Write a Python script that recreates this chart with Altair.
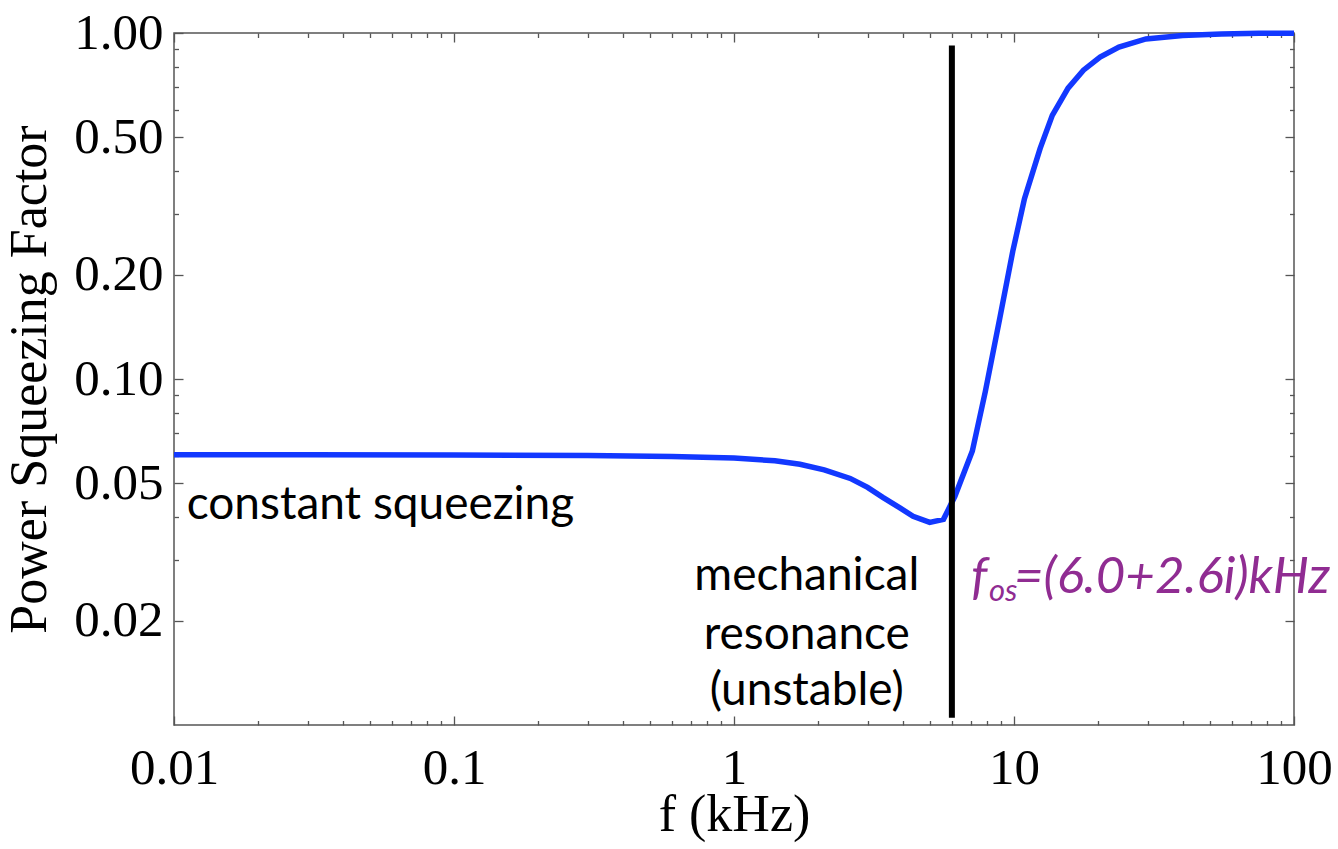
import altair as alt
import pandas as pd

# ---- data ----
freq_khz = [0.01, 0.03, 0.1, 0.3, 0.6, 1.0, 1.4, 1.72, 2.1, 2.6, 3.0, 3.4, 3.9, 4.36,
            5.0, 5.6, 6.15, 7.1, 7.9, 8.9, 9.9, 10.9, 12.4, 13.7, 15.6, 17.7, 20.3,
            23.7, 29.6, 40.0, 55.0, 75.0, 100.0]
squeeze = [0.0604, 0.0604, 0.0603, 0.0601, 0.0597, 0.0591, 0.0580, 0.0567, 0.0546, 0.0516,
           0.0486, 0.0455, 0.0425, 0.0401, 0.0385, 0.0393, 0.0458, 0.0619, 0.092, 0.150,
           0.234, 0.332, 0.464, 0.578, 0.693, 0.781, 0.852, 0.911, 0.961, 0.983, 0.994,
           0.998, 0.999]

x_major = [0.01, 0.1, 1, 10, 100]
x_minor = [0.02, 0.03, 0.04, 0.05, 0.06, 0.07, 0.08, 0.09,
           0.2, 0.3, 0.4, 0.5, 0.6, 0.7, 0.8, 0.9,
           2, 3, 4, 5, 6, 7, 8, 9,
           20, 30, 40, 50, 60, 70, 80, 90]
y_major = [0.02, 0.05, 0.1, 0.2, 0.5, 1.0]
y_minor = [0.03, 0.04, 0.06, 0.07, 0.08, 0.09, 0.3, 0.4, 0.6, 0.7, 0.8, 0.9]

resonance_khz = [6.0]
resonance_lo = [0.0105]
resonance_hi = [0.92]

left_text = ["constant squeezing"]
left_text_x = [0.0111]
left_text_y = [0.0393]

center_text = ["mechanical", "resonance", "(unstable)"]
center_text_x = [1.82, 1.82, 1.82]
center_text_y = [0.0246, 0.0166, 0.01143]

fos_x = [6.0]
fos_y = [0.024]

# ---- tables ----
curve = pd.DataFrame({"f": freq_khz, "v": squeeze})
res = pd.DataFrame({"f": resonance_khz, "lo": resonance_lo, "hi": resonance_hi})
lt = pd.DataFrame({"x": left_text_x, "y": left_text_y, "t": left_text})
ct = pd.DataFrame({"x": center_text_x, "y": center_text_y, "t": center_text})
fos = pd.DataFrame({"x": fos_x, "y": fos_y})

XS = alt.Scale(type="log", domain=[0.01, 100], nice=False)
YS = alt.Scale(type="log", domain=[0.01, 1], nice=False)

def is_major(lst):
    return "indexof([" + ",".join(repr(v) for v in lst) + "], datum.value) >= 0"

x_ticks = sorted(x_major + x_minor)
y_ticks = sorted(y_major + y_minor)

SERIF = "Liberation Serif"
TICK = "#555555"
common = dict(domain=False, grid=False, tickColor=TICK, tickWidth=1.3,
              labelOverlap=False, labelFlush=False)

x_bottom = alt.Axis(
    values=x_ticks,
    tickSize={"expr": f"{is_major(x_major)} ? -9 : -4.5"},
    labelExpr=f"{is_major(x_major)} ? format(datum.value, '~g') : ''",
    labelFont=SERIF, labelFontSize=51, labelColor="black", labelPadding=27,
    titleFont=SERIF, titleFontSize=52, titleFontWeight="normal", titleColor="black",
    titleX=560, titleY=105, titleBaseline="alphabetic", titleAlign="center",
    **common)
y_left = alt.Axis(
    values=y_ticks,
    tickSize={"expr": f"{is_major(y_major)} ? -9 : -4.5"},
    labelExpr=f"{is_major(y_major)} ? format(datum.value, '.2f') : ''",
    labelFont=SERIF, labelFontSize=51, labelColor="black", labelPadding=20,
    titleFont=SERIF, titleFontSize=52, titleFontWeight="normal", titleColor="black",
    titleX=-129, titleY=346, titleAngle=270, titleBaseline="alphabetic", titleAlign="center",
    **common)
x_top = alt.Axis(orient="top", values=x_ticks,
                 tickSize={"expr": f"{is_major(x_major)} ? -9 : -4.5"},
                 labels=False, **common)
y_right = alt.Axis(orient="right", values=y_ticks,
                   tickSize={"expr": f"{is_major(y_major)} ? -9 : -4.5"},
                   labels=False, **common)

line = alt.Chart(curve).mark_line(color="#1238FF", strokeWidth=5.5).encode(
    x=alt.X("f:Q", scale=XS, axis=x_bottom, title="f (kHz)"),
    y=alt.Y("v:Q", scale=YS, axis=y_left, title="Power Squeezing Factor"),
)

rule = alt.Chart(res).mark_rule(color="black", strokeWidth=6).encode(
    x=alt.X("f:Q", scale=XS, axis=x_top, title=None),
    y=alt.Y("lo:Q", scale=YS, axis=y_right, title=None),
    y2="hi:Q",
)

txt_left = alt.Chart(lt).mark_text(font="Lato", fontSize=46, align="left",
                                   baseline="alphabetic", color="black").encode(
    x=alt.X("x:Q", scale=XS, axis=None),
    y=alt.Y("y:Q", scale=YS, axis=None),
    text="t:N",
)
txt_center = alt.Chart(ct).mark_text(font="Lato", fontSize=46, align="center",
                                     baseline="alphabetic", color="black").encode(
    x=alt.X("x:Q", scale=XS, axis=None),
    y=alt.Y("y:Q", scale=YS, axis=None),
    text="t:N",
)

PURPLE = "#902C92"
def fos_part(label, dx, dy, size):
    return alt.Chart(fos).mark_text(font="Lato", fontSize=size, fontStyle="italic",
                                    align="left", baseline="alphabetic", color=PURPLE,
                                    dx=dx, dy=dy).encode(
        x=alt.X("x:Q", scale=XS, axis=None),
        y=alt.Y("y:Q", scale=YS, axis=None),
        text=alt.value(label),
    )

fos_f = fos_part("f", 19, 0, 51)
fos_sub = fos_part("os", 37, 8, 31)
fos_rest = fos_part("=(6.0+2.6i)kHz", 62, 0, 51)

chart = alt.layer(line, rule, txt_left, txt_center, fos_f, fos_sub, fos_rest).resolve_axis(
    x="independent", y="independent"
).properties(
    width=1120, height=692,
    autosize=alt.AutoSizeParams(type="none"),
    padding={"left": 174, "top": 33, "right": 44, "bottom": 124},
    background="white",
).configure_view(stroke=TICK, strokeWidth=1.5)

chart.save("out.html", embed_options={"renderer": "svg", "actions": False})
